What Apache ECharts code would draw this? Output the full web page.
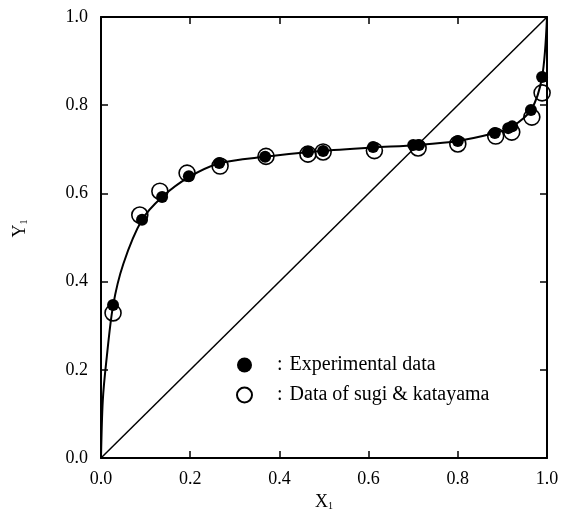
<!DOCTYPE html>
<html>
<head>
<meta charset="utf-8">
<script src="https://cdn.jsdelivr.net/npm/echarts@6/dist/echarts.min.js"></script>
<style>
  html, body { margin: 0; padding: 0; background: #fff; }
  #chart { width: 563px; height: 516px; }
</style>
</head>
<body>
<div id="chart"></div>
<script>
// experimental data (filled circles)
var expX = [0.027, 0.092, 0.137, 0.197, 0.265, 0.368, 0.464, 0.498, 0.610, 0.700, 0.713, 0.800, 0.883, 0.913, 0.922, 0.964, 0.989];
var expY = [0.347, 0.540, 0.592, 0.639, 0.669, 0.683, 0.694, 0.696, 0.705, 0.710, 0.710, 0.719, 0.737, 0.748, 0.752, 0.789, 0.864];
// data of sugi & katayama (open circles)
var sugiX = [0.027, 0.087, 0.132, 0.193, 0.267, 0.370, 0.464, 0.498, 0.613, 0.711, 0.800, 0.885, 0.921, 0.966, 0.989];
var sugiY = [0.329, 0.551, 0.605, 0.646, 0.662, 0.684, 0.689, 0.694, 0.697, 0.703, 0.712, 0.730, 0.739, 0.773, 0.828];
// fitted curve
var curveX = [0, 0.004, 0.012, 0.027, 0.050, 0.092, 0.137, 0.197, 0.265, 0.368, 0.480, 0.610, 0.710, 0.800, 0.883, 0.920, 0.964, 0.989, 1.0];
var curveY = [0, 0.130, 0.220, 0.345, 0.440, 0.540, 0.592, 0.637, 0.668, 0.683, 0.695, 0.704, 0.710, 0.719, 0.737, 0.750, 0.789, 0.864, 1.0];
// y = x diagonal
var diagX = [0, 1];
var diagY = [0, 1];

function pairs(xs, ys) {
  return xs.map(function (x, i) { return [x, ys[i]]; });
}

var font = 'Liberation Serif, DejaVu Serif, serif';
var chart = echarts.init(document.getElementById('chart'));

function axisBase(show) {
  return {
    type: 'value', min: 0, max: 1, interval: 0.2,
    axisLine: { show: true, onZero: false, lineStyle: { color: '#000', width: 2 } },
    axisTick: { show: true, inside: true, length: 7, lineStyle: { color: '#000', width: 1.5 } },
    axisLabel: {
      show: show, color: '#000', fontFamily: font, fontSize: 18,
      formatter: function (v) { return v.toFixed(1); }
    },
    splitLine: { show: false }
  };
}

var subRich = {
  a: { fontFamily: font, fontSize: 18, color: '#000' },
  b: { fontFamily: font, fontSize: 10, color: '#000', padding: [8, 0, 0, 0] }
};

var xBottom = axisBase(true);
xBottom.position = 'bottom';
xBottom.axisLabel.margin = 12;
xBottom.name = '{a|X}{b|1}';
xBottom.nameLocation = 'middle';
xBottom.nameGap = 32;
xBottom.nameTextStyle = { rich: subRich };
var xTop = axisBase(false);
xTop.position = 'top';

var yLeft = axisBase(true);
yLeft.position = 'left';
yLeft.axisLabel.margin = 13;
yLeft.name = '{a|Y}{b|1}';
yLeft.nameLocation = 'middle';
yLeft.nameRotate = 90;
yLeft.nameGap = 72;
yLeft.nameTextStyle = { rich: subRich, padding: [0, 0, 0, 18] };
var yRight = axisBase(false);
yRight.position = 'right';

var option = {
  animation: false,
  backgroundColor: '#fff',
  grid: { left: 101, right: 16, top: 17, bottom: 58 },
  xAxis: [xBottom, xTop],
  yAxis: [yLeft, yRight],
  legend: {
    orient: 'vertical',
    left: 231, top: 350,
    itemWidth: 15, itemHeight: 15, itemGap: 10,
    icon: 'circle',
    data: ['Experimental data', 'Data of sugi & katayama'],
    formatter: function (n) { return '{c|:}{t|' + n + '}'; },
    textStyle: {
      color: '#000', fontFamily: font, fontSize: 20,
      rich: {
        c: { fontFamily: font, fontSize: 20, color: '#000', padding: [0, 7, 0, 20] },
        t: { fontFamily: font, fontSize: 20, color: '#000' }
      }
    }
  },
  series: [
    {
      name: 'diagonal', type: 'line', xAxisIndex: 0, yAxisIndex: 0,
      data: pairs(diagX, diagY), symbol: 'none',
      lineStyle: { color: '#000', width: 1.5 }, silent: true
    },
    {
      name: 'curve', type: 'line', xAxisIndex: 0, yAxisIndex: 0,
      data: pairs(curveX, curveY), symbol: 'none',
      smooth: 0.3,
      lineStyle: { color: '#000', width: 2 }, silent: true
    },
    {
      name: 'Data of sugi & katayama', type: 'scatter', xAxisIndex: 0, yAxisIndex: 0,
      data: pairs(sugiX, sugiY), symbol: 'circle', symbolSize: 16,
      itemStyle: { color: 'rgba(255,255,255,0)', borderColor: '#000', borderWidth: 1.6, opacity: 1 }
    },
    {
      name: 'Experimental data', type: 'scatter', xAxisIndex: 0, yAxisIndex: 0,
      data: pairs(expX, expY), symbol: 'circle', symbolSize: 12,
      itemStyle: { color: '#000', opacity: 1 }
    }
  ]
};
chart.setOption(option);
</script>
</body>
</html>
